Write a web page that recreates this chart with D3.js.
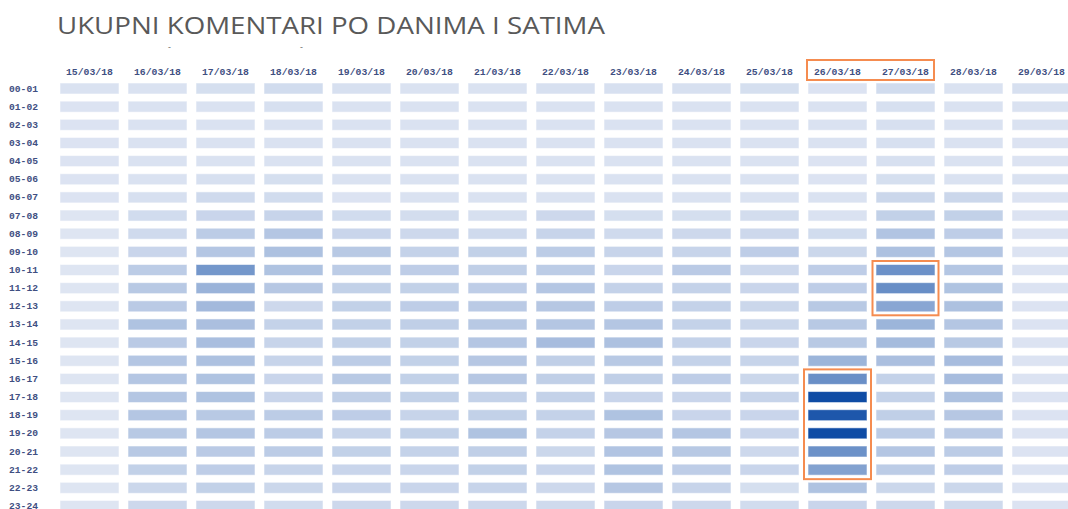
<!DOCTYPE html>
<html><head><meta charset="utf-8">
<script src="https://cdn.jsdelivr.net/npm/d3@7"></script>
<style>html,body{margin:0;padding:0;background:#fff;overflow:hidden}</style>
</head><body><svg id="c" width="1068" height="509"></svg>
<script>
const title = "UKUPNI KOMENTARI PO DANIMA I SATIMA";
const days = ["15/03/18","16/03/18","17/03/18","18/03/18","19/03/18","20/03/18","21/03/18","22/03/18","23/03/18","24/03/18","25/03/18","26/03/18","27/03/18","28/03/18","29/03/18"];
const hours = ["00-01","01-02","02-03","03-04","04-05","05-06","06-07","07-08","08-09","09-10","10-11","11-12","12-13","13-14","14-15","15-16","16-17","17-18","18-19","19-20","20-21","21-22","22-23","23-24"];
// values per day (column), one per hour (row)
const d15 = [4,3,3,3,3,3,3,2,2,2,2,2,2,2,2,2,2,2,2,2,2,2,2,2];
const d16 = [4,4,4,4,4,4,5,8,9,12,18,20,19,24,19,22,22,22,22,20,20,15,11,10];
const d17 = [6,4,4,4,4,5,9,12,18,22,52,34,30,26,27,25,24,24,20,22,19,17,15,10];
const d18 = [8,5,4,4,4,6,8,13,22,25,24,21,10,14,13,13,12,12,18,18,18,13,11,8];
const d19 = [5,4,4,4,4,4,3,8,12,20,18,15,15,15,15,18,20,16,17,13,15,12,12,10];
const d20 = [4,4,4,4,4,4,4,7,10,14,17,15,17,16,15,15,15,15,13,15,14,12,12,10];
const d21 = [4,4,4,4,4,4,4,5,9,15,16,17,19,20,22,21,21,14,15,24,16,15,13,10];
const d22 = [5,4,4,4,4,4,4,10,13,18,18,22,21,22,28,16,16,14,14,14,11,12,10,9];
const d23 = [5,4,4,4,4,4,4,6,9,13,12,14,17,22,25,20,16,12,24,21,23,24,21,12];
const d24 = [5,4,4,4,4,4,4,6,10,13,19,14,14,14,14,14,17,12,12,22,20,17,13,10];
const d25 = [6,4,4,4,4,4,4,7,10,17,10,12,11,11,12,13,11,13,12,12,10,12,6,8];
const d26 = [3,4,4,4,3,3,4,4,8,11,17,17,20,20,20,33,57,100,93,100,56,45,24,12];
const d27 = [8,5,5,5,5,6,11,15,23,25,56,58,42,33,29,26,14,14,16,18,22,18,11,10];
const d28 = [4,4,4,4,4,4,11,15,17,22,22,24,25,22,20,28,28,25,21,19,18,17,11,9];
const d29 = [5,4,4,3,3,4,3,3,3,3,3,3,3,3,3,3,3,3,3,3,3,3,3,3];
const series = [d15,d16,d17,d18,d19,d20,d21,d22,d23,d24,d25,d26,d27,d28,d29];
// highlighted groups: [day indices], [hour indices]
const highlightHeader = [11,12];
const highlightA = {days:[12], hours:[10,11,12]};
const highlightB = {days:[11], hours:[16,17,18,19,20,21]};

const svg = d3.select("#c");
const x = d3.scaleBand().domain(days).range([60,1071]).paddingInner(9/68).paddingOuter(0);
const y = d3.scaleBand().domain(hours).range([83,83+18.15*24-7.15]).paddingInner(7.15/18.15).paddingOuter(0);
const color = d3.scaleLinear().domain([0,100]).range(["#e2e8f4","#0f4ca5"]);

svg.append("text").attr("x",57).attr("y",34).text(title)
  .attr("font-family","'Open Sans', sans-serif").attr("font-size",23).attr("fill","#595959")
  .attr("textLength",548).attr("lengthAdjust","spacingAndGlyphs");
// stray marks under the title
svg.append("text").attr("x",168).attr("y",50).text("-").attr("font-family","'Open Sans'").attr("font-size",9).attr("fill","#666");
svg.append("text").attr("x",300).attr("y",50).text("-").attr("font-family","'Open Sans'").attr("font-size",9).attr("fill","#666");

const cells = [];
series.forEach((s,i)=>s.forEach((v,j)=>cells.push({day:days[i],hour:hours[j],v})));
svg.append("g").selectAll("rect").data(cells).join("rect")
  .attr("x",d=>x(d.day)).attr("y",d=>y(d.hour))
  .attr("width",x.bandwidth()).attr("height",y.bandwidth())
  .attr("fill",d=>color(d.v)).attr("stroke","rgba(255,255,255,0.55)").attr("stroke-width",1);

const lab = {ff:"'Liberation Mono', 'DejaVu Sans Mono', monospace", fill:"#3f4f82"};
svg.append("g").selectAll("text").data(days).join("text")
  .attr("x",d=>x(d)+x.bandwidth()/2).attr("y",75).attr("text-anchor","middle")
  .attr("font-family",lab.ff).attr("font-size",8.5).attr("font-weight","bold").attr("fill",lab.fill)
  .attr("textLength",47).attr("lengthAdjust","spacingAndGlyphs").text(d=>d);
svg.append("g").selectAll("text").data(hours).join("text")
  .attr("x",9).attr("y",d=>y(d)+y.bandwidth()/2+3).attr("text-anchor","start")
  .attr("font-family",lab.ff).attr("font-size",8.5).attr("font-weight","bold").attr("fill",lab.fill)
  .attr("textLength",29).attr("lengthAdjust","spacingAndGlyphs").text(d=>d);

const orange = "#f58c50";
function box(dIdx,hIdx,pad){
  const x0 = x(days[dIdx[0]])-pad, x1 = x(days[dIdx[dIdx.length-1]])+x.bandwidth()+pad;
  const y0 = y(hours[hIdx[0]])-pad, y1 = y(hours[hIdx[hIdx.length-1]])+y.bandwidth()+pad;
  svg.append("rect").attr("x",x0).attr("y",y0).attr("width",x1-x0).attr("height",y1-y0)
    .attr("fill","none").attr("stroke",orange).attr("stroke-width",2);
}
// header box
{
  const x0 = x(days[highlightHeader[0]]) - 1, x1 = x(days[highlightHeader[1]]) + x.bandwidth() - 1;
  svg.append("rect").attr("x",x0).attr("y",60).attr("width",x1-x0).attr("height",20)
    .attr("fill","none").attr("stroke",orange).attr("stroke-width",2);
}
box(highlightA.days, highlightA.hours, 3.5);
box(highlightB.days, highlightB.hours, 4);
</script></body></html>
